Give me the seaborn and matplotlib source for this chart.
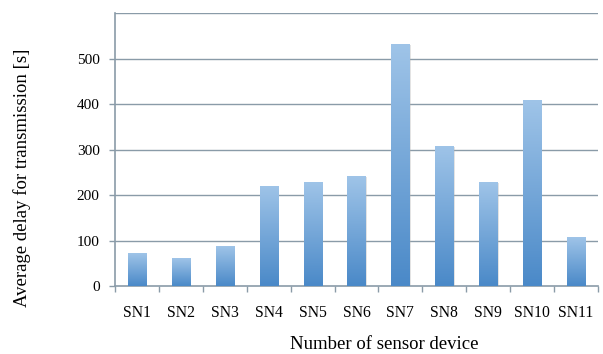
import numpy as np
import pandas as pd
import matplotlib
matplotlib.use("Agg")
import matplotlib.pyplot as plt
import seaborn as sns
from matplotlib.colors import LinearSegmentedColormap

categories = ["SN1", "SN2", "SN3", "SN4", "SN5", "SN6", "SN7", "SN8", "SN9", "SN10", "SN11"]
delays = [72, 61, 87, 221, 228, 241, 531, 308, 228, 408, 107]
yticks = [0, 100, 200, 300, 400, 500]

sns.set_theme(style="white")
plt.rcParams["font.family"] = ["Liberation Serif", "DejaVu Serif"]

df = pd.DataFrame({"sensor": categories, "delay": delays})

fig = plt.figure(figsize=(6.03, 3.54), dpi=100)
ax = fig.add_axes([0.1907, 0.192, 0.8010, 0.771])

sns.barplot(data=df, x="sensor", y="delay", ax=ax, color="#5b9bd5", width=0.41,
            saturation=1, edgecolor="none", zorder=3)

gridc = "#8a9ba8"
ax.set_ylim(0, 600)
ax.set_xlim(-0.5, len(categories) - 0.5)
ax.set_yticks(yticks)
ax.set_yticklabels([str(v) for v in yticks])
for y in yticks[1:] + [600]:
    ax.axhline(y, color=gridc, lw=1.0, zorder=1)

# gradient fill of bars
cmap = LinearSegmentedColormap.from_list("g", ["#4a89c8", "#9fc4e8"])
grad = np.linspace(0, 1, 256).reshape(-1, 1)
for p in ax.patches:
    x0, w, h = p.get_x(), p.get_width(), p.get_height()
    # soft shadow
    ax.add_patch(plt.Rectangle((x0 + 0.03, 0), w, h - 2, color="#b0b0b0", alpha=0.35, zorder=2, lw=0))
    im = ax.imshow(grad, extent=[x0, x0 + w, 0, h], origin="lower", cmap=cmap,
                   aspect="auto", zorder=4, interpolation="bilinear")
    im.set_clip_path(p)
    p.set_facecolor("none")
ax.set_xlim(-0.5, len(categories) - 0.5)
ax.set_ylim(0, 600)

for s in ["top", "right"]:
    ax.spines[s].set_visible(False)
for s in ["left", "bottom"]:
    ax.spines[s].set_color(gridc)
    ax.spines[s].set_linewidth(1.2)

ax.set_xticks(range(len(categories)))
ax.set_xticklabels(categories)
ax.set_xticks(np.arange(-0.5, len(categories), 1.0), minor=True)
ax.tick_params(axis="x", which="major", length=0, pad=14, labelsize=11.3, colors="black")
ax.tick_params(axis="x", which="minor", length=4, width=1.0, color=gridc, direction="out", bottom=True)
ax.tick_params(axis="y", which="major", length=4, width=1.0, color=gridc, direction="out",
               left=True, labelsize=11, pad=7, colors="black")

ax.set_xlabel("Number of sensor device", fontsize=13.5, color="black")
ax.set_ylabel("Average delay for transmission [s]", fontsize=13.5, color="black")
ax.xaxis.label.set_va("center")
ax.yaxis.label.set_va("center")
ax.xaxis.set_label_coords(0.557, -0.216)
ax.yaxis.set_label_coords(-0.193, 0.397)

fig.savefig("out.png", dpi=100)
